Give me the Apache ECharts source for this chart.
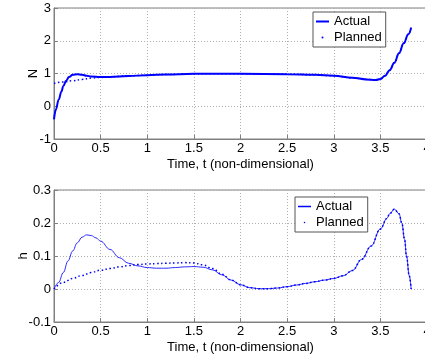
<!DOCTYPE html>
<html>
<head>
<meta charset="utf-8">
<script src="https://cdn.jsdelivr.net/npm/echarts@6/dist/echarts.min.js"></script>
<style>
  html, body { margin: 0; padding: 0; background: #fff; }
  #chart { width: 425px; height: 358px; }
</style>
</head>
<body>
<div id="chart"></div>
<script>
// top panel: N
const nActualT = [0, 0.02, 0.05, 0.08, 0.1, 0.13, 0.16, 0.2, 0.25, 0.3, 0.35, 0.4, 0.5, 0.6, 0.8, 1.0, 1.2, 1.5, 2.0, 2.5, 2.8, 3.0, 3.2, 3.35, 3.45, 3.5, 3.55, 3.6, 3.65, 3.7, 3.75, 3.8, 3.83]
const nActual = [-0.4, -0.1, 0.2, 0.45, 0.62, 0.78, 0.89, 0.96, 0.98, 0.96, 0.93, 0.91, 0.89, 0.89, 0.92, 0.95, 0.97, 0.99, 0.99, 0.98, 0.96, 0.93, 0.87, 0.82, 0.8, 0.83, 0.93, 1.1, 1.33, 1.62, 1.92, 2.2, 2.4]
const nPlannedT = [0, 0.1, 0.2, 0.3, 0.4, 0.5, 0.6, 0.8, 1.0, 1.2, 1.5, 2.0, 2.5, 2.8, 3.0, 3.2, 3.35, 3.45, 3.5, 3.55, 3.6, 3.65, 3.7, 3.75, 3.8, 3.83]
const nPlanned = [0.7, 0.74, 0.78, 0.82, 0.86, 0.88, 0.9, 0.93, 0.95, 0.97, 0.99, 0.99, 0.98, 0.96, 0.93, 0.87, 0.82, 0.8, 0.83, 0.93, 1.1, 1.33, 1.62, 1.92, 2.2, 2.4]

// bottom panel: h
const hActualT = [0, 0.05, 0.1, 0.15, 0.2, 0.25, 0.3, 0.35, 0.4, 0.45, 0.5, 0.6, 0.7, 0.8, 0.9, 1.0, 1.1, 1.2, 1.3, 1.4, 1.5, 1.6, 1.7, 1.8, 1.9, 2.0, 2.1, 2.2, 2.3, 2.4, 2.5, 2.6, 2.7, 2.8, 2.9, 3.0, 3.1, 3.2, 3.3, 3.4, 3.5, 3.57, 3.6, 3.65, 3.7, 3.73, 3.76, 3.78, 3.81, 3.83]
const hActual = [0, 0.02, 0.05, 0.085, 0.115, 0.14, 0.157, 0.164, 0.162, 0.155, 0.145, 0.12, 0.095, 0.078, 0.07, 0.065, 0.063, 0.063, 0.065, 0.067, 0.068, 0.066, 0.058, 0.043, 0.027, 0.013, 0.004, 0.001, 0.001, 0.003, 0.007, 0.012, 0.017, 0.022, 0.027, 0.032, 0.04, 0.056, 0.09, 0.13, 0.182, 0.214, 0.228, 0.242, 0.228, 0.2, 0.15, 0.1, 0.04, 0]
const hPlannedT = [0, 0.1, 0.2, 0.3, 0.4, 0.5, 0.6, 0.7, 0.8, 0.9, 1.0, 1.1, 1.2, 1.3, 1.4, 1.5, 1.6, 1.7, 1.8, 1.9, 2.0, 2.1, 2.2, 2.3, 2.4, 2.5, 2.6, 2.7, 2.8, 2.9, 3.0, 3.1, 3.2, 3.3, 3.4, 3.5, 3.57, 3.6, 3.65, 3.7, 3.73, 3.76, 3.78, 3.81, 3.83]
const hPlanned = [0, 0.02, 0.032, 0.041, 0.05, 0.057, 0.062, 0.067, 0.071, 0.074, 0.076, 0.077, 0.078, 0.079, 0.08, 0.079, 0.073, 0.062, 0.045, 0.027, 0.013, 0.004, 0.001, 0.001, 0.003, 0.007, 0.012, 0.017, 0.022, 0.027, 0.032, 0.04, 0.056, 0.09, 0.13, 0.182, 0.214, 0.228, 0.242, 0.228, 0.2, 0.15, 0.1, 0.04, 0]

const xTitle = 'Time, t (non-dimensional)'
const legendNames = ['Actual', 'Planned']

const pairs = (xs, ys) => xs.map((x, i) => [x, ys[i]])

const font = 'Liberation Sans, Arial, sans-serif'
const axisGray = '#808080'
const gridLine = { show: true, lineStyle: { color: '#b0b0b0', type: [1, 2], width: 1 } }

const xAxisOf = (gridIndex) => ({
  type: 'value', gridIndex, min: 0, max: 4, interval: 0.5,
  name: xTitle, nameLocation: 'middle', nameGap: 19, nameMoveOverlap: false,
  nameTextStyle: { color: '#000', fontSize: 13, fontFamily: font },
  axisLine: { show: true, onZero: false, lineStyle: { color: axisGray } },
  axisTick: { show: true, inside: true, length: 4, lineStyle: { color: axisGray } },
  axisLabel: { color: '#000', fontSize: 13, fontFamily: font, margin: 3 },
  splitLine: gridLine
})

const yAxisOf = (gridIndex, min, max, interval, name, gap) => ({
  type: 'value', gridIndex, min, max, interval,
  name, nameLocation: 'middle', nameGap: gap, nameMoveOverlap: false,
  nameTextStyle: { color: '#000', fontSize: 13, fontFamily: font },
  axisLine: { show: true, onZero: false, lineStyle: { color: axisGray } },
  axisTick: { show: true, inside: true, length: 4, lineStyle: { color: axisGray } },
  axisLabel: { color: '#000', fontSize: 13, fontFamily: font, margin: 3 },
  splitLine: gridLine
})

const legendOf = (left, top, h) => ({
  orient: 'vertical', left, top,
  itemWidth: 13, itemHeight: h, itemGap: 3,
  padding: [3, 4, 3, 3],
  backgroundColor: '#fff', borderColor: '#555', borderWidth: 1,
  textStyle: { color: '#000', fontSize: 13, fontFamily: font },
  data: [{ name: legendNames[0], icon: 'rect' }, { name: legendNames[1], icon: 'circle' }],
  selectedMode: false
})

const chart = echarts.init(document.getElementById('chart'))
chart.setOption({
  animation: false,
  backgroundColor: '#fff',
  grid: [
    { left: 54, top: 8, width: 373, height: 131, outerBoundsMode: 'none', containLabel: false, show: true, borderColor: axisGray, borderWidth: 1, backgroundColor: 'transparent' },
    { left: 54, top: 190, width: 373, height: 132, outerBoundsMode: 'none', containLabel: false, show: true, borderColor: axisGray, borderWidth: 1, backgroundColor: 'transparent' }
  ],
  xAxis: [xAxisOf(0), xAxisOf(1)],
  yAxis: [
    yAxisOf(0, -1, 3, 1, 'N', 14),
    yAxisOf(1, -0.1, 0.3, 0.1, 'h', 24)
  ],
  legend: [legendOf(313, 12, 2), legendOf(295, 197, 1.5)],
  series: [
    {
      name: 'Actual', type: 'line', xAxisIndex: 0, yAxisIndex: 0,
      data: pairs(nActualT, nActual), showSymbol: false, symbol: 'none',
      smooth: 0.4, smoothMonotone: 'x', z: 3,
      itemStyle: { color: '#0000ff' }, lineStyle: { color: '#0000ff', width: 2 }
    },
    {
      name: 'Planned', type: 'line', xAxisIndex: 0, yAxisIndex: 0,
      data: pairs(nPlannedT, nPlanned), showSymbol: false, symbol: 'none',
      smooth: 0.4, smoothMonotone: 'x', z: 2,
      itemStyle: { color: '#0000ff' }, lineStyle: { color: '#0000ff', width: 1.5, type: [1.5, 2.5] }
    },
    {
      name: 'Actual', type: 'line', xAxisIndex: 1, yAxisIndex: 1,
      data: pairs(hActualT, hActual), showSymbol: false, symbol: 'none',
      smooth: 0.4, smoothMonotone: 'x',
      itemStyle: { color: '#0000ff' }, lineStyle: { color: '#2a2aff', width: 1 }
    },
    {
      name: 'Planned', type: 'line', xAxisIndex: 1, yAxisIndex: 1,
      data: pairs(hPlannedT, hPlanned), showSymbol: false, symbol: 'none',
      smooth: 0.4, smoothMonotone: 'x',
      itemStyle: { color: '#0000ff' }, lineStyle: { color: '#0000ff', width: 1.5, type: [1.5, 2.5] }
    }
  ]
})
</script>
</body>
</html>
